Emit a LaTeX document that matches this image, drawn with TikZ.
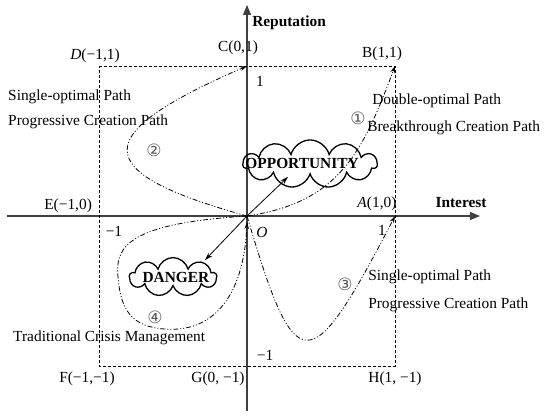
\documentclass[tikz,border=0pt]{standalone}
\usepackage{fontspec}
\setmainfont{Liberation Serif}
\newfontfamily\symfont{DejaVu Sans}
\usetikzlibrary{arrows.meta,shapes.symbols}

\begin{document}
\begin{tikzpicture}[
  x=148pt, y=150pt,
  font=\fontsize{15.4}{18}\selectfont,
  axis/.style={draw=black!75, line width=1.1pt, -{Triangle[length=10pt,width=8pt]}},
  frame/.style={draw, line width=0.8pt, dash pattern=on 3pt off 2pt},
  route/.style={draw, line width=0.8pt,
                dash pattern=on 5pt off 2pt on 1pt off 2pt on 1pt off 2pt,
                -{Stealth[length=7pt,width=4.5pt]}},
  push/.style={draw, line width=0.8pt, -{Stealth[length=8pt,width=5pt]}},
  puff/.style={cloud, cloud ignores aspect, draw, line width=1.3pt, inner sep=0pt},
  lbl/.style={inner sep=0pt},
  hdr/.style={inner sep=0pt, font=\fontsize{15.4}{18}\selectfont\bfseries},
  num/.style={inner sep=0pt, text=black!65, font=\symfont\fontsize{17}{17}\selectfont}
]
\useasboundingbox (-1.669,-1.327) rectangle (2.047,1.44);
% corner points of the square
\coordinate (O) at (0,0);
\coordinate (A) at (1,0);
\coordinate (B) at (1,1);
\coordinate (C) at (0,1);
\coordinate (D) at (-1,1);
\coordinate (E) at (-1,0);
\coordinate (F) at (-1,-1);
\coordinate (G) at (0,-1);
\coordinate (H) at (1,-1);
\coordinate (xl) at (-1.622,0);
\coordinate (xr) at (1.574,0);
\coordinate (yb) at (0,-1.30);
\coordinate (yt) at (0,1.407);
% axes and square
\draw[axis] (xl) -- (xr);
\draw[axis] (yb) -- (yt);
\draw[frame] (D) -- (B) -- (H) -- (F) -- cycle;
\node[hdr, anchor=west] (rep) at (0.034,1.287) {Reputation};
\node[hdr] (int) at (1.446,0.087) {Interest};
% point labels
\node[lbl] (lD) at (-1.027,1.067) {\textit{D}(−1,1)};
\node[lbl] (lC) at (-0.061,1.12)  {C(0,1)};
\node[lbl] (lB) at (0.912,1.08)   {B(1,1)};
\node[lbl] (lE) at (-1.209,0.067) {E(−1,0)};
\node[lbl] (lA) at (0.878,0.08)   {\textit{A}(1,0)};
\node[lbl] (lF) at (-1.081,-1.087) {F(−1,−1)};
\node[lbl] (lG) at (-0.196,-1.087) {G(0, −1)};
\node[lbl] (lH) at (1.0,-1.087)   {H(1, −1)};
\node[lbl] (lO) at (0.101,-0.113) {\textit{O}};
% tick values
\node[lbl] (t1) at (0.088,0.9)    {1};
\node[lbl] (t2) at (0.912,-0.093) {1};
\node[lbl] (t3) at (-0.899,-0.1)  {−1};
\node[lbl] (t4) at (0.122,-0.927) {−1};
% clouds
\node[puff, cloud puffs=11, minimum width=134pt, minimum height=48pt] (opp) at (0.426,0.347) {};
\node[hdr] (opptxt) at (0.372,0.347) {OPPORTUNITY};
\node[puff, cloud puffs=9, minimum width=87pt, minimum height=39pt] (dng) at (-0.5,-0.407) {};
\node[hdr] (dngtxt) at (-0.48,-0.407) {DANGER};
\coordinate (oppin) at (0.277,0.261);
\coordinate (dngin) at (-0.284,-0.294);
\draw[push] (O) -- (oppin);
\draw[push] (O) -- (dngin);
% paths
\draw[route] (O) .. controls (0.62,0.09) and (0.78,0.42) .. (B);
\draw[route] (O) .. controls (-1.1,0.3) and (-1.05,0.55) .. (C);
\draw[route] (O) .. controls (0.33,-1.1) and (0.42,-1.1) .. (A);
\draw[route] (O) .. controls (-0.8,-0.05) and (-0.9,-0.2) .. (-0.87,-0.42)
             .. controls (-0.85,-0.66) and (-0.75,-0.755) .. (-0.5,-0.755)
             .. controls (-0.2,-0.75) and (-0.02,-0.5) .. (0,-0.04);
\node[num] (n1) at (0.75,0.653)   {①};
\node[num] (n2) at (-0.628,0.44)  {②};
\node[num] (n3) at (0.662,-0.453) {③};
\node[num] (n4) at (-0.622,-0.673) {④};
% path descriptions
\node[lbl, anchor=west] (p1a) at (0.845,0.767)  {Double-optimal Path};
\node[lbl, anchor=west] (p1b) at (0.811,0.587)  {Breakthrough Creation Path};
\node[lbl, anchor=west] (p2a) at (-1.615,0.793) {Single-optimal Path};
\node[lbl, anchor=west] (p2b) at (-1.615,0.627) {Progressive Creation Path};
\node[lbl, anchor=west] (p3a) at (0.818,-0.407) {Single-optimal Path};
\node[lbl, anchor=west] (p3b) at (0.818,-0.593) {Progressive Creation Path};
\node[lbl, anchor=west] (p4)  at (-1.581,-0.813) {Traditional Crisis Management};
\end{tikzpicture}
\end{document}
